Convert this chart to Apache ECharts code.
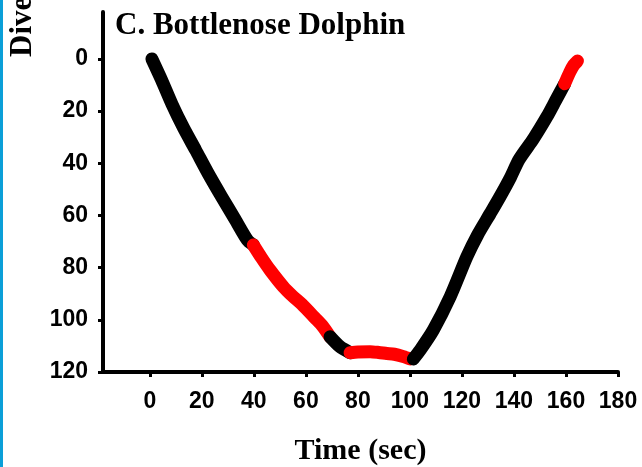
<!DOCTYPE html>
<html>
<head>
<meta charset="utf-8">
<script src="https://cdn.jsdelivr.net/npm/echarts@6/dist/echarts.min.js"></script>
<style>
  html, body { margin: 0; padding: 0; background: #fff; }
  #diveChart { width: 642px; height: 467px; }
</style>
</head>
<body>
<div id="diveChart"></div>
<script>
// tick labels
var timeTicks = [0, 20, 40, 60, 80, 100, 120, 140, 160, 180]
var depthTicks = [0, 20, 40, 60, 80, 100, 120]

// dive profile pieces, [time (sec), depth], in time order
var descentBlack = [[0.8, 0], [4.5, 8], [8.6, 17.5], [13, 26.5], [17.6, 34.9], [22.5, 44], [27.6, 52.8], [32.5, 61], [37.5, 69.4], [39.8, 71.3]]
var descentRed = [[39.8, 71.3], [43, 76.3], [46.2, 80.9], [51.3, 87.3], [55, 91], [58.4, 94], [63.5, 99.3], [66.5, 102.5], [69.3, 106.5]]
var bottomBlack = [[69.3, 106.5], [73.1, 110.3], [77, 112.6]]
var bottomRed = [[77, 112.6], [80, 112.3], [84.7, 112.2], [88, 112.5], [91.1, 112.9], [94, 113.2], [97.5, 114.1], [100.1, 115]]
var ascentBlack = [[101.3, 115], [104, 111.5], [109, 103.9], [115.5, 91.1], [121.9, 75.8], [126, 67.5], [130.9, 59.2], [134.5, 53], [138.6, 45.5], [142, 38.5], [147.5, 30.6], [152.7, 22.1], [156, 16], [159.5, 9.5]]
var ascentRed = [[159.5, 9.5], [161.5, 5], [163, 2.3], [164.4, 0.8]]

var pieces = [
  { data: descentBlack, color: '#000000' },
  { data: descentRed, color: '#ff0000' },
  { data: bottomBlack, color: '#000000' },
  { data: bottomRed, color: '#ff0000' },
  { data: ascentBlack, color: '#000000' },
  { data: ascentRed, color: '#ff0000' }
]

var labelFont = { color: '#000', fontFamily: 'Liberation Sans', fontWeight: 'bold', fontSize: 23 }

var chart = echarts.init(document.getElementById('diveChart'))
var option = {
  animation: false,
  title: {
    text: 'C. Bottlenose Dolphin',
    left: 115,
    top: 10,
    padding: 0,
    textStyle: { color: '#000', fontFamily: 'Liberation Serif', fontWeight: 'bold', fontSize: 31 }
  },
  grid: { left: 103, right: 24, top: 12, bottom: 95, outerBoundsMode: 'none' },
  xAxis: {
    type: 'value',
    min: -18,
    max: 180,
    name: 'Time (sec)',
    nameLocation: 'middle',
    nameGap: 64,
    nameTextStyle: { color: '#000', fontFamily: 'Liberation Serif', fontWeight: 'bold', fontSize: 30 },
    axisLine: { show: true, onZero: false, lineStyle: { color: '#000', width: 4 } },
    axisTick: { show: true, customValues: timeTicks, length: 5, lineStyle: { color: '#000', width: 3 } },
    axisLabel: Object.assign({ customValues: timeTicks, margin: 18 }, labelFont),
    splitLine: { show: false }
  },
  yAxis: {
    type: 'value',
    inverse: true,
    min: -18,
    max: 120,
    axisLine: { show: true, onZero: false, lineStyle: { color: '#000', width: 4 } },
    axisTick: { show: true, customValues: depthTicks, length: 5, lineStyle: { color: '#000', width: 3 } },
    axisLabel: Object.assign({ customValues: depthTicks, margin: 15 }, labelFont),
    splitLine: { show: false }
  },
  graphic: [
    { type: 'rect', left: 0, top: 0, shape: { width: 3, height: 467 }, style: { fill: '#0a9fd8' } },
    {
      type: 'text',
      x: 23,
      y: 57,
      rotation: Math.PI / 2,
      style: {
        text: 'Dive Depth (m)',
        textAlign: 'left',
        textVerticalAlign: 'middle',
        fill: '#000',
        font: 'bold 31px "Liberation Serif"'
      }
    }
  ],
  series: pieces.map(function (p) {
    return {
      type: 'line',
      data: p.data,
      showSymbol: false,
      smooth: 0.25,
      lineStyle: { color: p.color, width: 13, cap: 'round', join: 'round' }
    }
  })
}
chart.setOption(option, true)
</script>
</body>
</html>
